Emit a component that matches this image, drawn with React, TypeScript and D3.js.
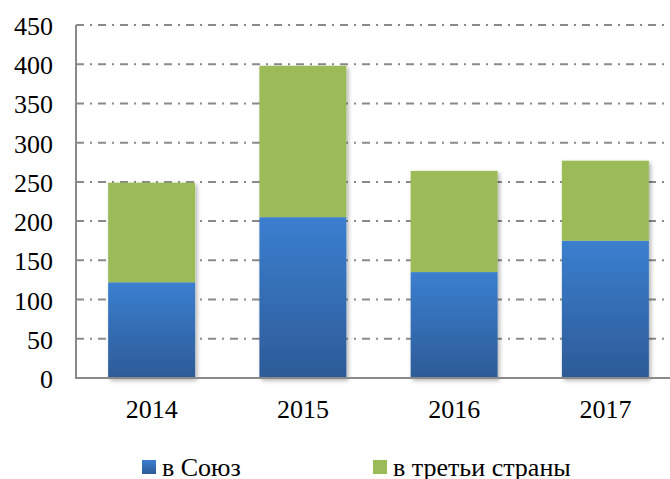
import React from 'react';
import * as d3 from 'd3';

const categories = ['2014', '2015', '2016', '2017'];
const unionValues = [122, 205, 135, 175];
const thirdValues = [127, 193, 129, 102];
const yTicks = [0, 50, 100, 150, 200, 250, 300, 350, 400, 450];
const seriesNames = ['в Союз', 'в третьи страны'];

const W = 670;
const H = 479;
const FONT = "'Liberation Serif', 'DejaVu Serif', serif";

export default function App() {
  const x = d3.scaleBand<string>().domain(categories).range([76, 681]).paddingInner(0.425).paddingOuter(0.2125);
  const y = d3.scaleLinear().domain([0, 450]).range([378, 25]);
  const stackData = categories.map((c, i) => ({ cat: c, union: unionValues[i], third: thirdValues[i] }));
  const stack = d3.stack<any>().keys(['union', 'third'])(stackData);
  const gridColor = '#8a8a8a';

  return (
    <svg width={W} height={H} fontFamily={FONT} fontSize={26}
      style={{ position: 'absolute', left: 0, top: 0, background: '#fff', fontFamily: FONT }}>
      <defs>
        <linearGradient id="blueGrad" x1="0" y1="0" x2="0" y2="1">
          <stop offset="0%" stopColor="#3B7FD0" />
          <stop offset="100%" stopColor="#2D5B97" />
        </linearGradient>
        <filter id="shadow" x="-20%" y="-20%" width="140%" height="140%">
          <feDropShadow dx="2" dy="2" stdDeviation="2" floodColor="#000" floodOpacity="0.3" />
        </filter>
      </defs>
      {yTicks.filter(t => t > 0).map(t => (
        <line key={t} x1={76} x2={W} y1={y(t)} y2={y(t)} stroke={gridColor} strokeWidth={2}
          strokeDasharray="8 6 2 6" />
      ))}
      {yTicks.map(t => (
        <text key={t} x={53} y={y(t) + 10} textAnchor="end" fill="#000">{t}</text>
      ))}
      <g filter="url(#shadow)">
        {stack.map((layer, li) => (
          <g key={li}>
            {layer.map((d: any, i) => (
              <rect key={i} x={x(categories[i])} width={x.bandwidth()} y={y(d[1])} height={y(d[0]) - y(d[1]) + (li === 0 ? 0.5 : 0)}
                fill={li === 0 ? 'url(#blueGrad)' : '#9BBB59'} />
            ))}
          </g>
        ))}
      </g>
      <line x1={76} x2={76} y1={y(450)} y2={y(0)} stroke={gridColor} strokeWidth={2} />
      <line x1={75} x2={W} y1={y(0)} y2={y(0)} stroke={gridColor} strokeWidth={2} />
      {categories.map(c => (
        <text key={c} x={(x(c) as number) + x.bandwidth() / 2} y={418} textAnchor="middle" fill="#000">{c}</text>
      ))}
      <rect x={142} y={460} width={14} height={14} fill="url(#blueGrad)" />
      <text x={162} y={476} fill="#000">{seriesNames[0]}</text>
      <rect x={373} y={460} width={14} height={14} fill="#9BBB59" />
      <text x={393} y={476} fill="#000">{seriesNames[1]}</text>
    </svg>
  );
}
